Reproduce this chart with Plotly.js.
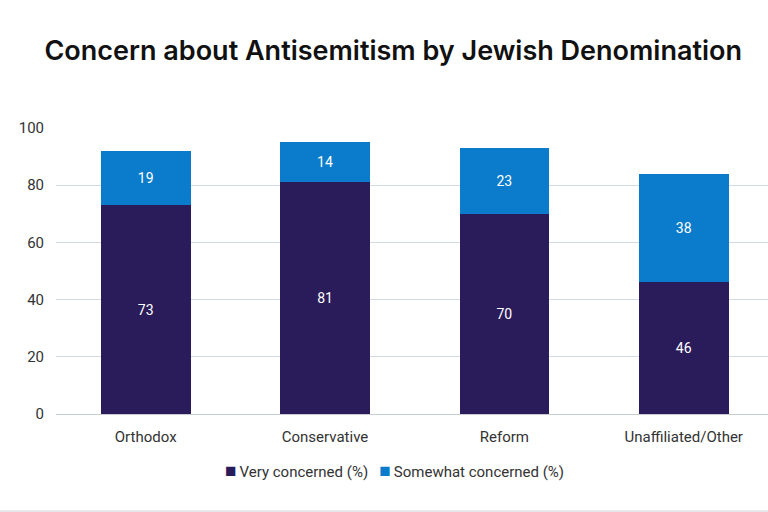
<!DOCTYPE html>
<html>
<head>
<meta charset="utf-8">
<script src="https://cdn.plot.ly/plotly-3.0.1.min.js"></script>
<style>
  html, body { margin: 0; padding: 0; background: #ffffff; }
  #chart { width: 768px; height: 512px; }
</style>
</head>
<body>
<div id="chart"></div>
<script>
// Share of respondents concerned about antisemitism, by denomination
const denominations = ['Orthodox', 'Conservative', 'Reform', 'Unaffiliated/Other'];
const veryConcerned = [73, 81, 70, 46];
const somewhatConcerned = [19, 14, 23, 38];
const yTicks = [0, 20, 40, 60, 80, 100];
const seriesNames = ['Very concerned (%)', 'Somewhat concerned (%)'];

const darkNavy = '#2a1c5a';
const brightBlue = '#0b7bcb';
const seriesColors = [darkNavy, brightBlue];

const labelFont = { family: 'Roboto, sans-serif', size: 14, color: '#ffffff' };
const axisFont = { family: 'Roboto, sans-serif', size: 15, color: '#333333' };

const traces = [veryConcerned, somewhatConcerned].map((vals, i) => ({
  type: 'bar',
  name: seriesNames[i],
  x: denominations,
  y: vals,
  text: vals.map(String),
  textposition: 'inside',
  insidetextanchor: 'middle',
  textfont: labelFont,
  marker: { color: seriesColors[i] },
  hoverinfo: 'skip',
  showlegend: false
}));

// Compact legend row: coloured square followed by the series name
const legendText = seriesNames
  .map((n, i) => `<span style="color:${seriesColors[i]};font-size:19px">■</span>&#8201;${n}`)
  .join('&nbsp;&nbsp;&nbsp;');

const layout = {
  width: 768,
  height: 512,
  paper_bgcolor: '#ffffff',
  plot_bgcolor: '#ffffff',
  barmode: 'stack',
  bargap: 0.5,
  margin: { l: 56, r: 0, t: 128, b: 98 },
  title: {
    text: 'Concern about Antisemitism by Jewish Denomination',
    font: { family: 'Inter, sans-serif', size: 27, color: '#111111', weight: 600 },
    x: 0.512,
    xanchor: 'center',
    y: 0.902,
    yanchor: 'middle'
  },
  xaxis: {
    range: [-0.5, 3.47],
    tickfont: axisFont,
    showline: true,
    linecolor: '#c8cdd3',
    linewidth: 1,
    ticks: '',
    ticklabelstandoff: 9,
    fixedrange: true
  },
  yaxis: {
    range: [0, 100],
    tickvals: yTicks,
    ticktext: yTicks.map(String),
    tickfont: axisFont,
    gridcolor: '#d3dae2',
    gridwidth: 1,
    zeroline: false,
    showline: false,
    ticks: '',
    ticklabelstandoff: 11,
    fixedrange: true
  },
  showlegend: false,
  annotations: [
    {
      xref: 'paper', yref: 'paper',
      x: 0.475, y: -0.196,
      xanchor: 'center', yanchor: 'middle',
      text: legendText,
      showarrow: false,
      font: axisFont
    }
  ],
  shapes: [
    {
      type: 'line', xref: 'paper', yref: 'paper',
      x0: -0.08, x1: 1, y0: -0.34, y1: -0.34,
      line: { color: '#e2e4e7', width: 2 }
    }
  ]
};

Plotly.newPlot('chart', traces, layout, { displayModeBar: false, staticPlot: true });
</script>
</body>
</html>
